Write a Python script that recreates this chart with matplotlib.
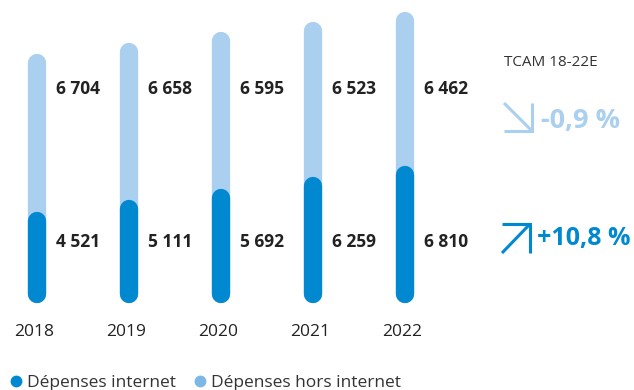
#!/usr/bin/env python3
# -*- coding: utf-8 -*-

"""Dépenses internet / hors internet, 2018-2022, barres empilées arrondies."""

import matplotlib
matplotlib.use('Agg')
import matplotlib.pyplot as plt
from matplotlib.lines import Line2D
import numpy as np

# Data.
years = ['2018', '2019', '2020', '2021', '2022']
internet = [4521, 5111, 5692, 6259, 6810]
hors_internet = [6704, 6658, 6595, 6523, 6462]
series_names = ['Dépenses internet', 'Dépenses hors internet']
tcam_title = 'TCAM 18-22E'
tcam_hors = '-0,9 %'
tcam_internet = '+10,8 %'

# Styles.
DARK = '#0089d0'
LIGHT = '#abcfee'
LIGHT_DOT = '#7cb7e7'
TEXT = '#222222'
FONT = ['Open Sans', 'DejaVu Sans']

W, H, DPI = 634, 390, 100
plt.rcParams['font.family'] = FONT

fig = plt.figure(figsize=(W / DPI, H / DPI), dpi=DPI)
ax = fig.add_axes([0, 0, 1, 1])
ax.set_axis_off()

# Map category index / value onto the picture: index 0 -> 37 px, step 92 px;
# value 0 -> 303 px, 0.0201 px per unit.
step_px, x0_px = 92.0, 37.0
ax.set_xlim(-x0_px / step_px, (W - x0_px) / step_px)
scale, zero_px = 0.0201, 303.0
ax.set_ylim((zero_px - H) / scale, zero_px / scale)

x = np.arange(len(years))
totals = np.array(internet) + np.array(hors_internet)
width_px = 18.3
lw = width_px * 72 / DPI
cap = width_px / 2 / scale      # round cap radius in data units
pad = 24 / scale                # light pill sticks out above its total

for i in x:
    ax.plot([i, i], [cap, totals[i] + pad - cap], color=LIGHT, lw=lw,
            solid_capstyle='round', zorder=2)
    ax.plot([i, i], [cap, internet[i] - cap], color=DARK, lw=lw,
            solid_capstyle='round', zorder=3)

# Value labels at fixed heights beside each bar.
label_dx = 19 / step_px
yfix = ax.get_xaxis_transform()
for i in x:
    ax.text(i + label_dx, 1 - 89 / H, f'{hors_internet[i]:,}'.replace(',', ' '),
            transform=yfix, ha='left', va='center', fontsize=12.5,
            fontweight='bold', color=TEXT)
    ax.text(i + label_dx, 1 - 242 / H, f'{internet[i]:,}'.replace(',', ' '),
            transform=yfix, ha='left', va='center', fontsize=12.5,
            fontweight='bold', color=TEXT)
    ax.text(i - 3 / step_px, 1 - 332 / H, years[i], transform=yfix,
            ha='center', va='center', fontsize=12.5, color=TEXT)

# TCAM block on the right (figure pixel coordinates).
def px(xp, yp):
    return xp / W, 1 - yp / H

fig.text(*px(504, 62), tcam_title, ha='left', va='center', fontsize=11,
         color='#333333')
fig.text(*px(541, 121), tcam_hors, ha='left', va='center', fontsize=19.5,
         fontweight='bold', color=LIGHT)
fig.text(*px(537, 238), tcam_internet, ha='left', va='center', fontsize=18,
         fontweight='bold', color=DARK)

def arrow(pts, color):
    xs = [p[0] / W for p in pts]
    ys = [1 - p[1] / H for p in pts]
    fig.add_artist(Line2D(xs, ys, color=color, lw=2.2,
                          solid_capstyle='butt', solid_joinstyle='miter'))

# Down-right arrow: diagonal plus bottom/right bracket.
arrow([(504, 103), (532, 131)], LIGHT)
arrow([(504, 131), (532, 131), (532, 103)], LIGHT)
# Up-right arrow: diagonal plus top/right bracket.
arrow([(502, 253), (530, 224)], DARK)
arrow([(502, 224), (530, 224), (530, 253)], DARK)

# Legend.
handles = [
    Line2D([], [], marker='o', ls='', color=DARK, markersize=7.5),
    Line2D([], [], marker='o', ls='', color=LIGHT_DOT, markersize=7.5),
]
fig.legend(handles, series_names, loc='lower left',
           bbox_to_anchor=(0.015, -0.006), ncol=2, frameon=False,
           fontsize=12.5, handlelength=0.6, handletextpad=0.3,
           columnspacing=1.1, borderaxespad=0, borderpad=0.1,
           labelcolor='#333333')

fig.savefig('out.png', dpi=DPI)
